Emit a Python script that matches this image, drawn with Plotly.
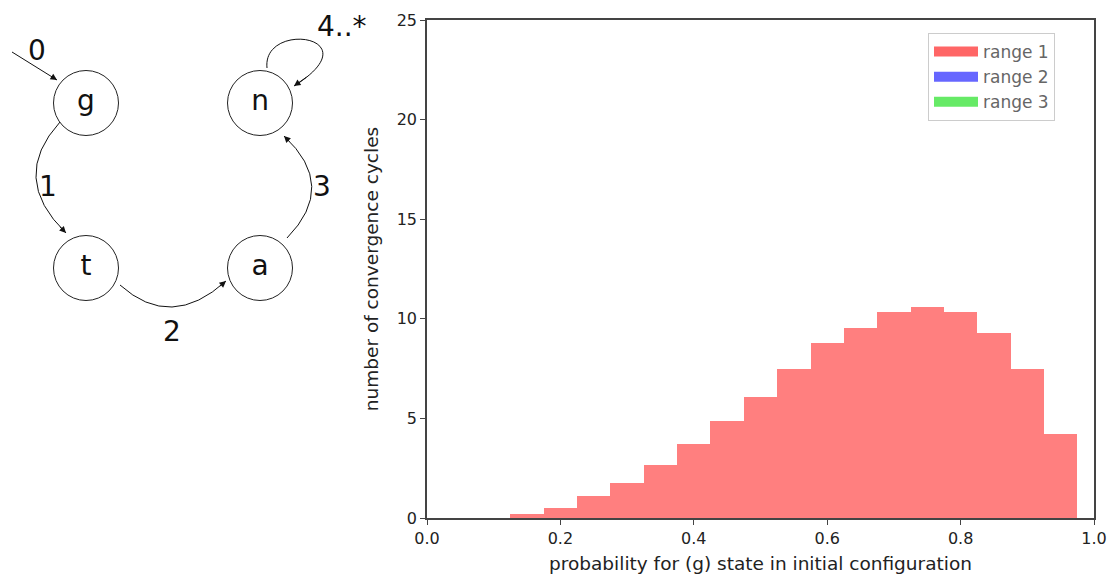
import plotly.graph_objects as go

# ---------------- data ----------------
bin_centers = [0.15, 0.20, 0.25, 0.30, 0.35, 0.40, 0.45, 0.50, 0.55,
               0.60, 0.65, 0.70, 0.75, 0.80, 0.85, 0.90, 0.95]
range1_counts = [0.2, 0.49, 1.08, 1.76, 2.67, 3.70, 4.86, 6.05, 7.46,
                 8.77, 9.53, 10.32, 10.57, 10.32, 9.31, 7.46, 4.24]
range2_counts = []
range3_counts = []
series_names = ["range 1", "range 2", "range 3"]
x_ticks = [0.0, 0.2, 0.4, 0.6, 0.8, 1.0]
y_ticks = [0, 5, 10, 15, 20, 25]

# state diagram content
node_labels = ["g", "n", "t", "a"]
edge_labels = ["0", "1", "2", "3", "4..*"]

W, H = 1113, 578
FONT = "DejaVu Sans"

# layout of the state diagram (pixel space of the figure)
node_pos = {"g": (86, 103), "n": (260, 103), "t": (86, 268), "a": (260, 268)}
label_pos = {"0": (37, 50), "1": (48, 186), "2": (172, 331), "3": (322, 186), "4..*": (342, 26)}

fig = go.Figure()

bar_colors = ["rgba(255,0,0,0.5)", "rgba(0,0,255,0.5)", "rgba(0,255,0,0.5)"]
legend_colors = ["rgba(255,0,0,0.6)", "rgba(0,0,255,0.6)", "rgba(0,220,0,0.6)"]
for name, counts, col in zip(series_names, [range1_counts, range2_counts, range3_counts], bar_colors):
    fig.add_trace(go.Bar(
        x=bin_centers[:len(counts)], y=counts, width=0.05,
        marker=dict(color=col, line=dict(width=0)),
        name=name, showlegend=False, xaxis="x", yaxis="y"))

# legend proxies (wide swatches)
for i, (name, col) in enumerate(zip(series_names, legend_colors)):
    fig.add_trace(go.Scatter(
        x=[None], y=[None], mode="lines", name=name,
        line=dict(color=col, width=12), legendgroup=f"g{i}",
        xaxis="x", yaxis="y"))

# state diagram nodes
fig.add_trace(go.Scatter(
    x=[node_pos[n][0] for n in node_labels],
    y=[node_pos[n][1] for n in node_labels],
    mode="markers+text", text=node_labels,
    textposition="middle center",
    textfont=dict(family=FONT, size=28, color="#111"),
    marker=dict(size=65, color="white", line=dict(color="#222", width=1)),
    showlegend=False, hoverinfo="skip", xaxis="x2", yaxis="y2"))

shapes = []
annotations = []


def qbez(p0, p1, p2, t):
    return ((1 - t) ** 2 * p0[0] + 2 * (1 - t) * t * p1[0] + t ** 2 * p2[0],
            (1 - t) ** 2 * p0[1] + 2 * (1 - t) * t * p1[1] + t ** 2 * p2[1])


def cbez(p0, p1, p2, p3, t):
    a = (1 - t) ** 3
    b = 3 * (1 - t) ** 2 * t
    c = 3 * (1 - t) * t ** 2
    d = t ** 3
    return (a * p0[0] + b * p1[0] + c * p2[0] + d * p3[0],
            a * p0[1] + b * p1[1] + c * p2[1] + d * p3[1])


def arrowhead(tip, tail):
    annotations.append(dict(
        x=tip[0], y=tip[1], ax=tail[0], ay=tail[1],
        xref="x2", yref="y2", axref="x2", ayref="y2",
        text="", showarrow=True, arrowhead=2, arrowsize=1.3,
        arrowwidth=1, arrowcolor="#111", standoff=0, startstandoff=0))


def quad_edge(p0, p1, p2):
    shapes.append(dict(
        type="path", xref="x2", yref="y2",
        path=f"M{p0[0]},{p0[1]} Q{p1[0]},{p1[1]} {p2[0]},{p2[1]}",
        line=dict(color="#111", width=1)))
    arrowhead(p2, qbez(p0, p1, p2, 0.93))


# edge 0 (entry arrow)
shapes.append(dict(type="line", xref="x2", yref="y2", x0=12, y0=52, x1=57, y1=80,
                   line=dict(color="#111", width=1)))
arrowhead((57, 80), (50, 75.6))
# edge 1: g -> t
quad_edge((60, 122), (9, 178), (66, 233))
# edge 2: t -> a
quad_edge((120, 285), (171, 331), (226, 281))
# edge 3: a -> n
quad_edge((287, 238), (338, 186), (284, 136))
# edge 4..*: self loop on n
p0, p1, p2, p3 = (267, 68), (262, 20), (374, 36), (294, 86)
shapes.append(dict(type="path", xref="x2", yref="y2",
                   path=f"M{p0[0]},{p0[1]} C{p1[0]},{p1[1]} {p2[0]},{p2[1]} {p3[0]},{p3[1]}",
                   line=dict(color="#111", width=1)))
arrowhead(p3, cbez(p0, p1, p2, p3, 0.93))

for lab in edge_labels:
    x, y = label_pos[lab]
    annotations.append(dict(x=x, y=y, xref="x2", yref="y2", text=lab,
                            showarrow=False, font=dict(family=FONT, size=28, color="#111")))

x0p, x1p, y0p, y1p = 427, 1094, 20, 518
axis_common = dict(showline=True, linecolor="#444", linewidth=1.5, mirror=True,
                   ticks="outside", ticklen=5, tickcolor="#444", tickwidth=1,
                   showgrid=False, zeroline=False, automargin=False,
                   tickfont=dict(family=FONT, size=16, color="#222"))

fig.update_layout(
    width=W, height=H,
    margin=dict(l=0, r=0, t=0, b=0, autoexpand=False),
    paper_bgcolor="white", plot_bgcolor="rgba(0,0,0,0)",
    barmode="overlay", bargap=0,
    font=dict(family=FONT, color="#222"),
    xaxis=dict(domain=[x0p / W, x1p / W], range=[0, 1], tickvals=x_ticks,
               ticktext=[f"{v:.1f}" for v in x_ticks], anchor="y",
               title=dict(text="probability for (g) state in initial configuration",
                          font=dict(family=FONT, size=18.5, color="#222"), standoff=10),
               **axis_common),
    yaxis=dict(domain=[1 - y1p / H, 1 - y0p / H], range=[0, 25], tickvals=y_ticks,
               anchor="x",
               title=dict(text="number of convergence cycles",
                          font=dict(family=FONT, size=18.5, color="#222"), standoff=13),
               **axis_common),
    xaxis2=dict(domain=[0, 1], range=[0, W], visible=False, anchor="y2",
                fixedrange=True, automargin=False),
    yaxis2=dict(domain=[0, 1], range=[H, 0], visible=False, anchor="x2",
                fixedrange=True, automargin=False),
    legend=dict(x=928 / W, y=1 - 33 / H, xanchor="left", yanchor="top",
                bgcolor="rgba(255,255,255,0.9)", bordercolor="#ccc", borderwidth=1,
                itemwidth=44,
                font=dict(family=FONT, size=17, color="#666"), tracegroupgap=0),
    shapes=shapes, annotations=annotations,
)

fig.write_html("out.html")
